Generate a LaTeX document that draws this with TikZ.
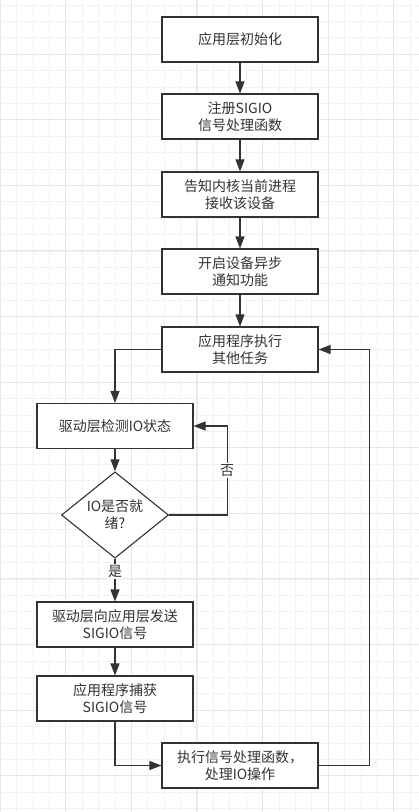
\documentclass[tikz,border=0pt]{standalone}
\usepackage{fontspec}
\newfontfamily\cjk{Noto Sans CJK SC}
\usepackage{xcolor}
\usetikzlibrary{arrows.meta,positioning,shapes.geometric}

\definecolor{inkgray}{HTML}{333333}
\definecolor{gridminor}{HTML}{F2F2F2}
\definecolor{gridmajor}{HTML}{E6E6E6}

\tikzset{
  stepbox/.style={draw=inkgray, line width=1.1pt, fill=white, text=inkgray,
    minimum width=156pt, minimum height=45pt, inner sep=0pt, align=center,
    font=\cjk\fontsize{14}{17.5}\selectfont},
  decide/.style={diamond, draw=inkgray, line width=1.1pt, fill=white, text=inkgray,
    minimum width=107pt, minimum height=66pt, inner sep=0pt, align=center,
    font=\cjk\fontsize{14}{17}\selectfont},
  flow/.style={draw=inkgray, line width=1.1pt, -{Triangle[length=12pt,width=9pt]}},
  answer/.style={fill=white, text=inkgray, inner sep=1.5pt, font=\cjk\fontsize{14}{16}\selectfont}
}

\begin{document}
\begin{tikzpicture}[x=1pt,y=-1pt]
\useasboundingbox (0,0) rectangle (419,812);
\fill[white] (0,0) rectangle (419,812);
% background grid
\foreach \gx in {0,16.4,...,419} \draw[gridminor,line width=0.6pt] (\gx,0) -- (\gx,812);
\foreach \gy in {4.8,21.2,...,812} \draw[gridminor,line width=0.6pt] (0,\gy) -- (419,\gy);
\foreach \gx in {0,65.6,...,419} \draw[gridmajor,line width=0.7pt] (\gx,0) -- (\gx,812);
\foreach \gy in {54,119.6,...,812} \draw[gridmajor,line width=0.7pt] (0,\gy) -- (419,\gy);

\node[stepbox] (init) at (240,39.5) {应用层初始化};
\node[stepbox] (reg) at (240,116.5) {注册SIGIO\\信号处理函数};
\node[stepbox] (tell) at (240,194.5) {告知内核当前进程\\接收该设备};
\node[stepbox] (async) at (240,271.5) {开启设备异步\\通知功能};
\node[stepbox] (task) at (240,349.5) {应用程序执行\\其他任务};
\node[stepbox] (check) at (115,426) {驱动层检测IO状态};
\node[decide] (ready) at (115,515) {IO是否就\\绪?};
\node[stepbox] (send) at (115,624.5) {驱动层向应用层发送\\SIGIO信号};
\node[stepbox] (catch) at (115,698.5) {应用程序捕获\\SIGIO信号};
\node[stepbox] (handle) at (240,765.5) {执行信号处理函数，\\处理IO操作};

\draw[flow] (init) -- (reg);
\draw[flow] (reg) -- (tell);
\draw[flow] (tell) -- (async);
\draw[flow] (async) -- (task);
\draw[flow] (task.west) -| (check.north);
\draw[flow] (check) -- (ready);
\draw[flow] (ready.east) -- ++(58,0) |- (check.east) node[answer,pos=0.25]{否};
\draw[flow] (ready) -- (send) node[answer,pos=0.3]{是};
\draw[flow] (send) -- (catch);
\draw[flow] (catch.south) |- (handle.west);
\draw[flow] (handle.east) -- ++(51,0) |- (task.east);
\end{tikzpicture}
\end{document}
